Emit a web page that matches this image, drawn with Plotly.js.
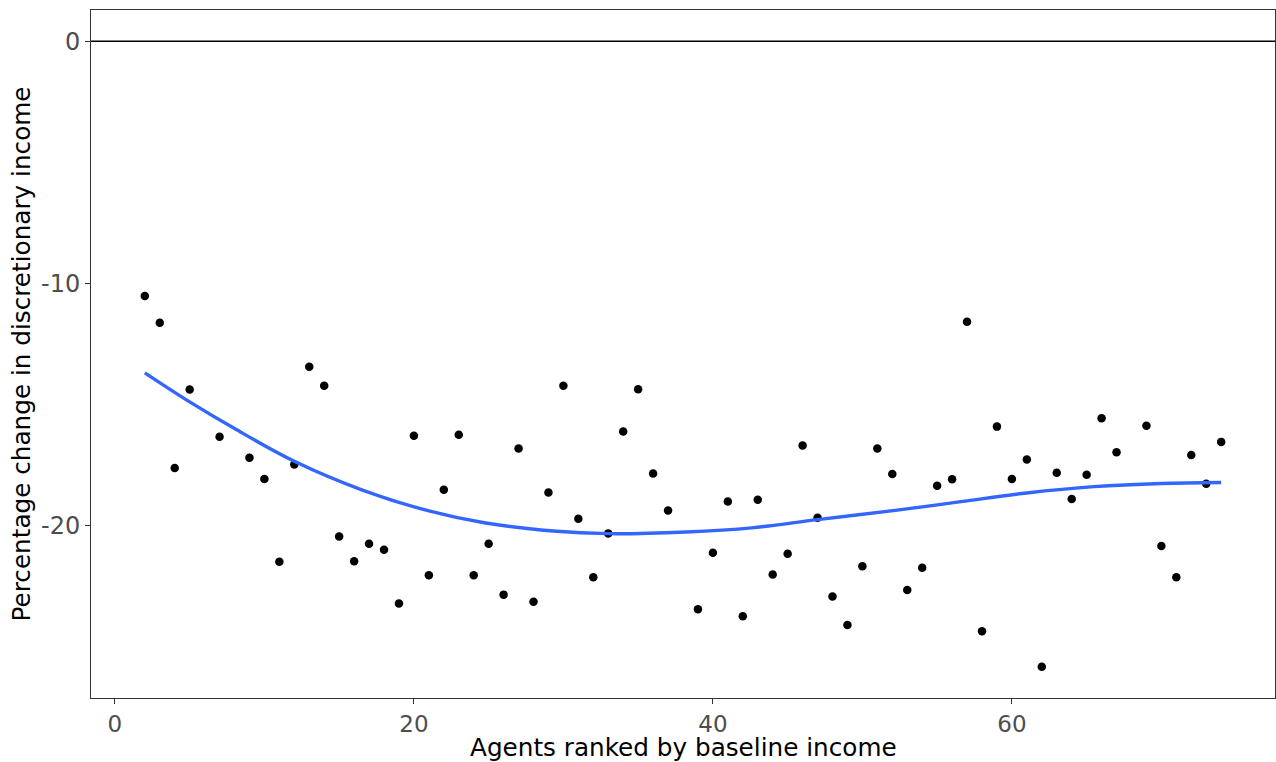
<!DOCTYPE html>
<html>
<head>
<meta charset="utf-8">
<script src="https://cdn.plot.ly/plotly-3.0.1.min.js"></script>
<style>html,body{margin:0;padding:0;background:#fff;}#chart{width:1276px;height:762px;}</style>
</head>
<body>
<div id="chart"></div>
<script>
const agentRank = [2,3,4,5,7,9,10,11,12,13,14,15,16,17,18,19,20,21,22,23,24,25,26,27,28,29,30,31,32,33,34,35,36,37,39,40,41,42,43,44,45,46,47,48,49,50,51,52,53,54,55,56,57,58,59,60,61,62,63,64,65,66,67,69,70,71,72,73,74];
const pctChange = [-10.52,-11.63,-17.63,-14.39,-16.34,-17.21,-18.08,-21.50,-17.48,-13.45,-14.23,-20.46,-21.48,-20.76,-21.01,-23.23,-16.30,-22.06,-18.53,-16.26,-22.06,-20.76,-22.86,-16.82,-23.15,-18.64,-14.23,-19.73,-22.14,-20.33,-16.12,-14.38,-17.86,-19.38,-23.46,-21.13,-19.01,-23.75,-18.94,-22.03,-21.17,-16.70,-19.68,-22.94,-24.11,-21.69,-16.82,-17.88,-22.67,-21.75,-18.36,-18.09,-11.59,-24.37,-15.92,-18.08,-17.28,-25.84,-17.83,-18.91,-17.91,-15.57,-16.98,-15.88,-20.85,-22.14,-17.09,-18.28,-16.55];
const smoothX = [2,5,8,12,16.6,21,24.8,29.3,33,38.2,42.6,47,52.2,56.6,61,65.5,70,74];
const smoothY = [-13.70,-14.90,-16.00,-17.35,-18.55,-19.40,-19.90,-20.23,-20.34,-20.27,-20.10,-19.76,-19.38,-19.02,-18.66,-18.40,-18.27,-18.23];
const xTickVals = [0,20,40,60];
const yTickVals = [0,-10,-20];
const xTitle = 'Agents ranked by baseline income';
const yTitle = 'Percentage change in discretionary income';

const traces = [
  {x: agentRank, y: pctChange, type: 'scatter', mode: 'markers',
   marker: {color: '#000000', size: 8.5}, hoverinfo: 'x+y', showlegend: false},
  {x: smoothX, y: smoothY, type: 'scatter', mode: 'lines',
   line: {color: '#3366FF', width: 3.4, shape: 'spline', smoothing: 1}, showlegend: false}
];

const layout = {
  width: 1276, height: 762,
  margin: {l: 91, r: 1, t: 10, b: 64},
  paper_bgcolor: '#ffffff', plot_bgcolor: '#ffffff',
  font: {family: 'DejaVu Sans', color: '#4D4D4D'},
  showlegend: false,
  xaxis: {
    range: [-1.6, 77.6], tickvals: xTickVals, ticktext: xTickVals.map(String),
    showgrid: false, zeroline: false, showline: true, mirror: true,
    linecolor: '#333333', linewidth: 1,
    ticks: 'outside', ticklen: 5, tickcolor: '#333333', tickwidth: 1,
    tickfont: {size: 23, color: '#4D4D4D', family: 'DejaVu Sans'}
  },
  yaxis: {
    range: [-27.13, 1.29], tickvals: yTickVals, ticktext: yTickVals.map(String),
    showgrid: false, zeroline: false, showline: true, mirror: true,
    linecolor: '#333333', linewidth: 1,
    ticks: 'outside', ticklen: 5, tickcolor: '#333333', tickwidth: 1,
    tickfont: {size: 24, color: '#4D4D4D', family: 'DejaVu Sans'},
    title: {text: yTitle, font: {size: 24.7, color: '#000000', family: 'DejaVu Sans'}, standoff: 3}
  },
  annotations: [
    {text: xTitle, xref: 'paper', yref: 'paper', x: 0.5, y: 0, xanchor: 'center', yanchor: 'middle',
     yshift: -49, showarrow: false, font: {size: 24.7, color: '#000000', family: 'DejaVu Sans'}}
  ],
  shapes: [
    {type: 'line', xref: 'paper', x0: 0, x1: 1, yref: 'y', y0: 0, y1: 0,
     line: {color: '#000000', width: 1.6}, layer: 'below'}
  ]
};

Plotly.newPlot('chart', traces, layout, {displayModeBar: false, staticPlot: true});
</script>
</body>
</html>
